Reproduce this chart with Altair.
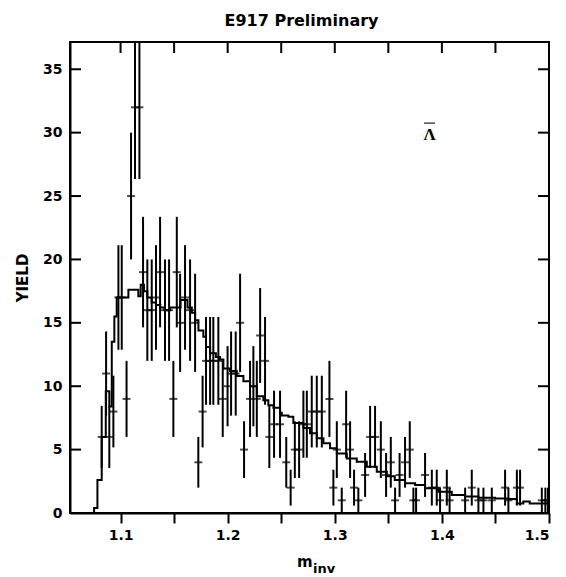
import altair as alt
import pandas as pd

# ---- measured points (bin centre in m_inv, yield counts) ----
pt_m = [1.0824, 1.0865, 1.0895, 1.0933, 1.0980, 1.1011, 1.1056, 1.1098, 1.1135, 1.1176,
        1.1210, 1.1250, 1.1291, 1.1331, 1.1369, 1.1415, 1.1453, 1.1493, 1.1525, 1.1556,
        1.1602, 1.1649, 1.1696, 1.1726, 1.1766, 1.1798, 1.1836, 1.1866, 1.1913, 1.1954,
        1.1999, 1.2032, 1.2075, 1.2116, 1.2153, 1.2209, 1.2240, 1.2272, 1.2303, 1.2349,
        1.2389, 1.2433, 1.2489, 1.2547, 1.2588, 1.2627, 1.2667, 1.2707, 1.2739, 1.2785,
        1.2832, 1.2879, 1.2950, 1.2987, 1.3019, 1.3065, 1.3106, 1.3143, 1.3180, 1.3220,
        1.3283, 1.3330, 1.3376, 1.3430, 1.3479, 1.3523, 1.3563, 1.3605, 1.3656, 1.3700,
        1.3734, 1.3759, 1.3843, 1.3906, 1.3952, 1.3983, 1.4046, 1.4072, 1.4217, 1.4279,
        1.4341, 1.4388, 1.4466, 1.4590, 1.4621, 1.4700, 1.4730, 1.4933, 1.4966, 1.4990]
pt_yield = [6, 11, 6, 8, 17, 17, 9, 25, 32, 32,
            19, 16, 16, 17, 19, 16, 16, 9, 19, 15,
            17, 16, 15, 4, 8, 12, 12, 12, 12, 9,
            10, 11, 11, 15, 5, 9, 10, 9, 14, 12,
            6, 7, 7, 4, 2, 5, 5, 7, 7, 8,
            8, 8, 9, 2, 5, 1, 7, 5, 2, 1,
            3, 6, 6, 5, 3, 4, 1, 3, 4, 5,
            1, 1, 3, 2, 2, 1, 2, 1, 1, 2,
            1, 1, 1, 2, 1, 2, 2, 1, 1, 1]

# ---- background histogram (left bin edge, value) ----
bg_m = [1.0528, 1.0753, 1.0784, 1.0824, 1.0862, 1.0895, 1.0918, 1.0942, 1.0964, 1.1073,
        1.1166, 1.1188, 1.1219, 1.1250, 1.1290, 1.1330, 1.1370, 1.1410, 1.1462, 1.1560,
        1.1625, 1.1665, 1.1696, 1.1727, 1.1773, 1.1798, 1.1836, 1.1890, 1.1929, 1.1960,
        1.2022, 1.2085, 1.2147, 1.2209, 1.2272, 1.2333, 1.2380, 1.2427, 1.2489, 1.2505,
        1.2567, 1.2613, 1.2707, 1.2769, 1.2832, 1.2894, 1.2956, 1.3019, 1.3112, 1.3205,
        1.3299, 1.3392, 1.3486, 1.3560, 1.3656, 1.3750, 1.3843, 1.3967, 1.4092, 1.4217,
        1.4341, 1.4497, 1.4620, 1.4700, 1.4760, 1.4820, 1.5000]
bg_yield = [0, 0.4, 2.6, 6.0, 9.6, 8.4, 13.5, 15.5, 17.0, 17.6,
            17.1, 18.0, 17.5, 17.0, 16.6, 16.4, 16.2, 16.0, 16.2, 16.8,
            16.2, 15.8, 15.2, 14.4, 13.9, 13.1, 12.6, 12.3, 12.1, 11.4,
            11.2, 10.8, 10.4, 10.0, 9.2, 8.9, 8.5, 8.3, 7.9, 7.7,
            7.6, 7.1, 6.7, 6.3, 5.9, 5.5, 5.1, 4.7, 4.3, 4.05,
            3.65, 3.26, 2.9, 2.6, 2.34, 2.2, 1.95, 1.68, 1.42, 1.3,
            1.2, 1.15, 1.1, 0.75, 0.9, 0.75, 0.75]

x_tick_vals = [1.1, 1.15, 1.2, 1.25, 1.3, 1.35, 1.4, 1.45, 1.5]
y_tick_vals = [0, 5, 10, 15, 20, 25, 30, 35]

# anti-lambda annotation: letter position and its overbar
lambda_m = [1.3885]
lambda_y = [29.8]
lambda_bar_y = [30.75]

W, H = 479, 471
X_DOM = [1.0528, 1.5]
Y_DOM = [0, 37.15]
FONT = "DejaVu Sans"

pts = pd.DataFrame({"m": pt_m, "n": pt_yield})
bg = pd.DataFrame({"m": bg_m, "y": bg_yield})
xt = pd.DataFrame({"v": x_tick_vals})
yt = pd.DataFrame({"v": y_tick_vals})
lam = pd.DataFrame({"m": lambda_m, "y": lambda_y, "yb": lambda_bar_y})
one = pd.DataFrame({"k": [0]})

xs = alt.Scale(domain=X_DOM, nice=False, zero=False)
ys = alt.Scale(domain=Y_DOM, nice=False, zero=False)

x_axis = alt.Axis(values=x_tick_vals,
                  labelExpr="(round(datum.value*100) % 10 == 0) ? format(datum.value, '.1f') : ''",
                  tickSize=10, tickWidth=2, tickColor="black",
                  domainColor="black", domainWidth=2,
                  labelFont=FONT, labelFontSize=14, labelFontWeight="bold",
                  labelColor="black", labelPadding=5, grid=False, title=None)
y_axis = alt.Axis(values=y_tick_vals, tickSize=0, labelPadding=8,
                  domainColor="black", domainWidth=2,
                  labelFont=FONT, labelFontSize=14, labelFontWeight="bold",
                  labelColor="black", grid=False,
                  title="YIELD", titleFont=FONT, titleFontSize=15, titleFontWeight="bold",
                  titleColor="black", titlePadding=12)


def X(field):
    return alt.X(field, scale=xs, axis=x_axis)


def Y(field):
    return alt.Y(field, scale=ys, axis=y_axis)


bg_line = alt.Chart(bg).mark_line(
    interpolate="step-after", color="black", strokeWidth=2, clip=True
).encode(x=X("m:Q"), y=Y("y:Q"))

err = alt.Chart(pts).transform_calculate(
    lo="datum.n - sqrt(datum.n)", hi="datum.n + sqrt(datum.n)"
).mark_rule(color="black", strokeWidth=2, clip=True).encode(
    x=X("m:Q"), y=Y("lo:Q"), y2="hi:Q")

cross = alt.Chart(pts).mark_tick(
    orient="horizontal", size=8, thickness=2, color="black", clip=True
).encode(x=X("m:Q"), y=Y("n:Q"))

left_ticks = alt.Chart(yt).mark_rule(color="black", strokeWidth=2).encode(
    y=Y("v:Q"), x=alt.value(0), x2=alt.value(11))
right_ticks = alt.Chart(yt).mark_rule(color="black", strokeWidth=2).encode(
    y=Y("v:Q"), x=alt.value(W - 11), x2=alt.value(W))
top_ticks = alt.Chart(xt).mark_rule(color="black", strokeWidth=2).encode(
    x=X("v:Q"), y=alt.value(0), y2=alt.value(11))

lam_text = alt.Chart(lam).mark_text(
    font="Liberation Serif", fontSize=17, fontWeight="bold", color="black", baseline="middle"
).encode(x=X("m:Q"), y=Y("y:Q"), text=alt.value("\u039b"))
lam_bar = alt.Chart(lam).mark_tick(
    orient="horizontal", size=11, thickness=1.5, color="black"
).encode(x=X("m:Q"), y=Y("yb:Q"))

m_text = alt.Chart(one).mark_text(
    font=FONT, fontSize=15, fontWeight="bold", color="black", align="left", baseline="alphabetic"
).encode(x=alt.value(227), y=alt.value(525), text=alt.value("m"))
inv_text = alt.Chart(one).mark_text(
    font=FONT, fontSize=13, fontWeight="bold", color="black", align="left", baseline="alphabetic"
).encode(x=alt.value(243), y=alt.value(531), text=alt.value("inv"))

chart = alt.layer(
    bg_line, err, cross, left_ticks, right_ticks, top_ticks, lam_text, lam_bar, m_text, inv_text
).properties(
    width=W, height=H,
    title=alt.TitleParams("E917 Preliminary", font=FONT, fontSize=16, fontWeight="bold",
                          color="black", anchor="middle", offset=12, dx=-8),
    autosize=alt.AutoSizeParams(type="none"),
    padding={"left": 70, "top": 42, "right": 17, "bottom": 64},
    background="white",
).configure_view(stroke="black", strokeWidth=2)

chart.save("out.html", embed_options={"renderer": "svg", "actions": False})
